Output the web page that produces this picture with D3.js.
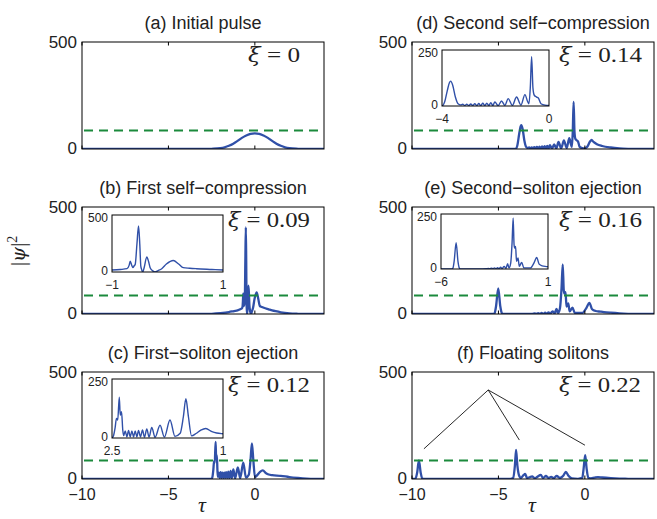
<!DOCTYPE html>
<html><head><meta charset="utf-8">
<script src="https://cdn.jsdelivr.net/npm/d3@7"></script>
<style>body{margin:0;background:#fff}svg{display:block}</style>
</head><body>
<svg id="chart" width="657" height="519"></svg>
<script>
// ---------------- data ----------------
const tauDomain = [-10, 4];
const psiDomain = [0, 500];
const xTicks = [-10, -5, 0];
const xTickLabels = ["−10", "−5", "0"];
const yTicks = [0, 500];
const yTickLabels = ["0", "500"];
const threshold = 87;
const panelTitles = ["(a) Initial pulse", "(b) First self−compression", "(c) First−soliton ejection",
                     "(d) Second self−compression", "(e) Second−soliton ejection", "(f) Floating solitons"];
const xiValues = ["0", "0.09", "0.12", "0.14", "0.16", "0.22"];

const pulseA = [[-10,0],[-3,0],[-2.5,1],[-2,4],[-1.75,8],[-1.5,15],[-1.25,25],[-1,38],[-0.75,52],[-0.5,63],[-0.25,71],[0,73],
  [0.25,71],[0.5,63],[0.75,52],[1,38],[1.25,25],[1.5,15],[1.75,8],[2,4],[2.5,1],[3,0],[4,0]];
const pulseB = [[-10,0],[-3,0],[-2.5,1],[-2,4],[-1.5,9],[-1.2,14],[-1,17],[-0.85,22],[-0.73,29],[-0.69,60],[-0.672,95],[-0.645,60],
  [-0.624,38],[-0.6,55],[-0.582,66],[-0.55,250],[-0.522,405],[-0.5,250],[-0.481,52],[-0.465,20],[-0.445,0],[-0.42,40],[-0.373,133],
  [-0.34,90],[-0.313,38],[-0.27,12],[-0.224,0],[-0.17,12],[-0.104,29],[-0.02,70],[0.104,101],[0.2,70],[0.284,38],[0.4,33],[0.522,29],
  [0.8,22],[1,17],[1.2,13],[1.5,8],[2,3],[2.5,1],[3,0],[4,0]];
const pulseC = [[-10,0],[-3,0],[-2.6,0],[-2.5,1],[-2.45,11],[-2.4,45],[-2.36,83],[-2.32,76],[-2.27,173],[-2.24,97],[-2.2,111],
  [-2.16,33],[-2.134,10],[-2.082,30],[-2.03,5],[-1.978,32],[-1.925,5],[-1.873,30],[-1.82,5],[-1.769,30],[-1.716,5],[-1.664,32],
  [-1.601,5],[-1.539,34],[-1.476,4],[-1.403,38],[-1.33,4],[-1.246,45],[-1.142,3],[-0.985,54],[-0.849,4],[-0.671,76],[-0.515,7],
  [-0.35,20],[-0.25,90],[-0.17,166],[-0.09,90],[0.008,9],[0.15,19],[0.3,33],[0.457,40],[0.65,27],[0.8,21],[1,18],[1.5,15],
  [2,9],[2.5,5],[3,2],[3.5,0.5],[4,0]];
const pulseD = [[-10,0],[-4.2,0],[-4,0],[-3.9,19],[-3.8,70],[-3.72,105],[-3.675,111],[-3.6,93],[-3.5,40],[-3.4,10],[-3.3,5],
  [-3.225,8],[-3.15,2],[-3.075,8],[-3,2],[-2.925,9],[-2.85,2],[-2.775,10],[-2.7,2],[-2.625,11],[-2.55,2],[-2.475,12],[-2.4,2],
  [-2.325,13],[-2.25,2],[-2.175,15],[-2.1,2],[-2.025,18],[-1.9,2],[-1.775,22],[-1.65,3],[-1.525,33],[-1.37,3],[-1.2125,40],
  [-1.05,4],[-0.9,51],[-0.8,20],[-0.75,10],[-0.7,80],[-0.65,220],[-0.6,80],[-0.55,48],[-0.4625,40],[-0.4,36],[-0.3,10],
  [-0.15,4],[0,3],[0.15,12],[0.3,35],[0.39,42],[0.5,33],[0.7,22],[1,14],[1.5,7],[2,3],[2.5,1],[3,0],[4,0]];
const pulseE = [[-10,0],[-6,0],[-5.3,0],[-5.22,4],[-5.14,35],[-5.01,120],[-4.89,35],[-4.8,4],[-4.72,0],[-3.5,0],[-3.05,1],
  [-2.9,3],[-2.8,1],[-2.7,4],[-2.6,1],[-2.5,5],[-2.4,1],[-2.3,6],[-2.2,1],[-2.1,8],[-2.0,2],[-1.87,12],[-1.75,3],[-1.64,24],
  [-1.55,5],[-1.44,27],[-1.35,120],[-1.28,232],[-1.22,110],[-1.18,95],[-1.12,102],[-1.06,35],[-1.01,42],[-0.96,50],[-0.88,12],
  [-0.72,30],[-0.58,5],[-0.15,5],[0.1,30],[0.26,52],[0.42,22],[0.62,14],[0.9,11],[1.1,9],[1.5,6],[2,3],[2.5,1],[3,0],[4,0]];
const pulseF = [[-10,0],[-9.8,2],[-9.7,30],[-9.6,87],[-9.5,30],[-9.4,2],[-9.3,0],[-4.3,0],[-4.15,5],[-4.05,60],[-3.98,136],
  [-3.9,60],[-3.8,15],[-3.7,5],[-3.55,18],[-3.45,24],[-3.35,5],[-3.2,8],[-3.05,12],[-2.9,4],[-2.75,10],[-2.55,19],[-2.42,5],
  [-2.25,14],[-2.1,5],[-1.95,10],[-1.8,4],[-1.63,14],[-1.45,5],[-1.25,15],[-1.1,33],[-0.95,15],[-0.75,3],[-0.4,1],[-0.15,5],
  [-0.07,50],[0.02,111],[0.1,50],[0.2,5],[0.35,3],[0.55,6],[0.76,9],[1,7],[1.5,4],[2,2],[2.5,1],[3,0],[4,0]];
const pulses = [pulseA, pulseB, pulseC, pulseD, pulseE, pulseF];

// insets: tau range, psi range, tick labels
const insetTau = [null, [-1, 1], [-2.5, 1], [-4, 0], [-6, 1], null];
const insetPsi = [null, [0, 500], [0, 250], [0, 250], [0, 250], null];
const insetXLabels = [null, ["−1", "1"], ["2.5", "1"], ["−4", "0"], ["−6", "1"], null];
const insetYLabels = [null, ["0", "500"], ["0", "250"], ["0", "250"], ["0", "250"], null];

// annotation in (f): apex and targets (tau, |psi|^2)
const annotApex = [-5.59, 416];
const annotTargets = [[-9.31, 141], [-3.79, 182], [0.006, 158]];

// ---------------- layout ----------------
const colX = [82, 412], panelW = 242;
const rowY = [42, 207, 372], panelH = 107;
const insetBoxes = [null, [112, 215, 111, 57], [112, 379, 111, 59], [442, 50, 107, 56], [441, 214, 107, 55], null];
const xiPos = [[248, 20], [228, 20], [228, 20], [559, 20], [559, 20], [559, 20]];
const xiWidth = [52, 82, 82, 83, 83, 82];
const BLUE = "#3050a8", GREEN = "#1b8a3c";
const SANS = "'Liberation Sans', Arial, Helvetica, sans-serif";
const SERIF = "'Liberation Serif', 'DejaVu Serif', serif";
const GREEKSERIF = "'DejaVu Serif', serif";

const svg = d3.select("#chart");

pulses.forEach((data, i) => {
  const col = Math.floor(i / 3), row = i % 3;
  const x0 = colX[col], y0 = rowY[row];
  const x = d3.scaleLinear().domain(tauDomain).range([x0, x0 + panelW]);
  const y = d3.scaleLinear().domain(psiDomain).range([y0 + panelH, y0]);
  const g = svg.append("g");
  const clipId = "clip" + i;
  svg.append("clipPath").attr("id", clipId).append("rect")
    .attr("x", x0).attr("y", y0).attr("width", panelW).attr("height", panelH);

  // curve
  const line = d3.line().x(d => x(d[0])).y(d => y(d[1])).curve(d3.curveMonotoneX);
  g.append("path").datum(data).attr("clip-path", `url(#${clipId})`)
    .attr("d", line).attr("fill", "none").attr("stroke", BLUE).attr("stroke-width", 2.3)
    .attr("stroke-linejoin", "round");
  // threshold
  g.append("line").attr("x1", x(tauDomain[0]) + 2).attr("x2", x(tauDomain[1]))
    .attr("y1", y(threshold)).attr("y2", y(threshold))
    .attr("stroke", GREEN).attr("stroke-width", 2).attr("stroke-dasharray", "9,6");

  // frame
  g.append("rect").attr("x", x0).attr("y", y0).attr("width", panelW).attr("height", panelH)
    .attr("fill", "none").attr("stroke", "#000").attr("stroke-width", 1);
  // inward ticks (top & bottom)
  xTicks.forEach(t => {
    g.append("line").attr("x1", x(t)).attr("x2", x(t)).attr("y1", y0 + panelH).attr("y2", y0 + panelH - 3.5).attr("stroke", "#000");
    g.append("line").attr("x1", x(t)).attr("x2", x(t)).attr("y1", y0).attr("y2", y0 + 3.5).attr("stroke", "#000");
  });
  // y tick labels
  yTicks.forEach((t, k) => {
    g.append("text").attr("x", x0 - 5).attr("y", y(t) - (k === 0 ? 1.5 : 0)).attr("dy", "0.36em")
      .attr("text-anchor", "end").attr("font-family", SANS).attr("font-size", 17).attr("fill", "#222")
      .text(yTickLabels[k]);
  });
  // x tick labels only in bottom row
  if (row === 2) {
    xTicks.forEach((t, k) => {
      g.append("text").attr("x", x(t)).attr("y", y0 + panelH + 21)
        .attr("text-anchor", "middle").attr("font-family", SANS).attr("font-size", 16).attr("fill", "#222")
        .text(xTickLabels[k]);
    });
    g.append("text").attr("x", x0 + 120).attr("y", 512)
      .attr("text-anchor", "middle").attr("font-family", SERIF).attr("font-style", "italic")
      .attr("font-size", 22).attr("fill", "#222").text("τ");
  }
  // title
  g.append("text").attr("x", x0 + panelW / 2).attr("y", y0 - 13.5)
    .attr("text-anchor", "middle").attr("font-family", SANS).attr("font-size", 18).attr("fill", "#222")
    .text(panelTitles[i]);
  // xi label
  const xt = g.append("text").attr("x", xiPos[i][0]).attr("y", y0 + xiPos[i][1])
    .attr("font-family", SERIF).attr("font-size", 22).attr("fill", "#222")
    .attr("textLength", xiWidth[i]).attr("lengthAdjust", "spacingAndGlyphs");
  xt.append("tspan").attr("font-family", GREEKSERIF).attr("font-style", "italic").attr("font-size", 20).text("ξ");
  xt.append("tspan").text(" = " + xiValues[i]);

  // inset
  if (insetBoxes[i]) {
    const [bx, by, bw, bh] = insetBoxes[i];
    const xi = d3.scaleLinear().domain(insetTau[i]).range([bx, bx + bw]);
    const yi = d3.scaleLinear().domain(insetPsi[i]).range([by + bh, by]);
    const icl = "iclip" + i;
    svg.append("clipPath").attr("id", icl).append("rect").attr("x", bx).attr("y", by).attr("width", bw).attr("height", bh);
    g.append("rect").attr("x", bx).attr("y", by).attr("width", bw).attr("height", bh).attr("fill", "#fff");
    const lineI = d3.line().x(d => xi(d[0])).y(d => yi(d[1])).curve(d3.curveMonotoneX);
    g.append("path").datum(data).attr("clip-path", `url(#${icl})`).attr("d", lineI)
      .attr("fill", "none").attr("stroke", BLUE).attr("stroke-width", 1.4).attr("stroke-linejoin", "round");
    g.append("rect").attr("x", bx).attr("y", by).attr("width", bw).attr("height", bh)
      .attr("fill", "none").attr("stroke", "#000").attr("stroke-width", 1);
    insetPsi[i].forEach((v, k) => {
      g.append("text").attr("x", bx - 4).attr("y", yi(v) + (k === 1 ? 3 : -1)).attr("dy", "0.36em")
        .attr("text-anchor", "end").attr("font-family", SANS).attr("font-size", 12).attr("fill", "#222")
        .text(insetYLabels[i][k]);
    });
    insetTau[i].forEach((v, k) => {
      g.append("text").attr("x", xi(v)).attr("y", by + bh + 17)
        .attr("text-anchor", "middle").attr("font-family", SANS).attr("font-size", 12).attr("fill", "#222")
        .text(insetXLabels[i][k]);
    });
  }

  // annotation lines in (f)
  if (i === 5) {
    annotTargets.forEach(tg => {
      g.append("line").attr("x1", x(annotApex[0])).attr("y1", y(annotApex[1]))
        .attr("x2", x(tg[0])).attr("y2", y(tg[1])).attr("stroke", "#111").attr("stroke-width", 0.9);
    });
  }
});

// y axis label |psi|^2
const yl = svg.append("text").attr("transform", "translate(25,251) rotate(-90)")
  .attr("text-anchor", "middle").attr("font-family", SERIF).attr("font-size", 22).attr("fill", "#222");
yl.append("tspan").text("|");
yl.append("tspan").attr("font-family", GREEKSERIF).attr("font-style", "italic").attr("font-size", 19).text("ψ");
yl.append("tspan").text("|");
yl.append("tspan").attr("font-size", 14).attr("dy", "-0.55em").text("2");
</script>
</body></html>
